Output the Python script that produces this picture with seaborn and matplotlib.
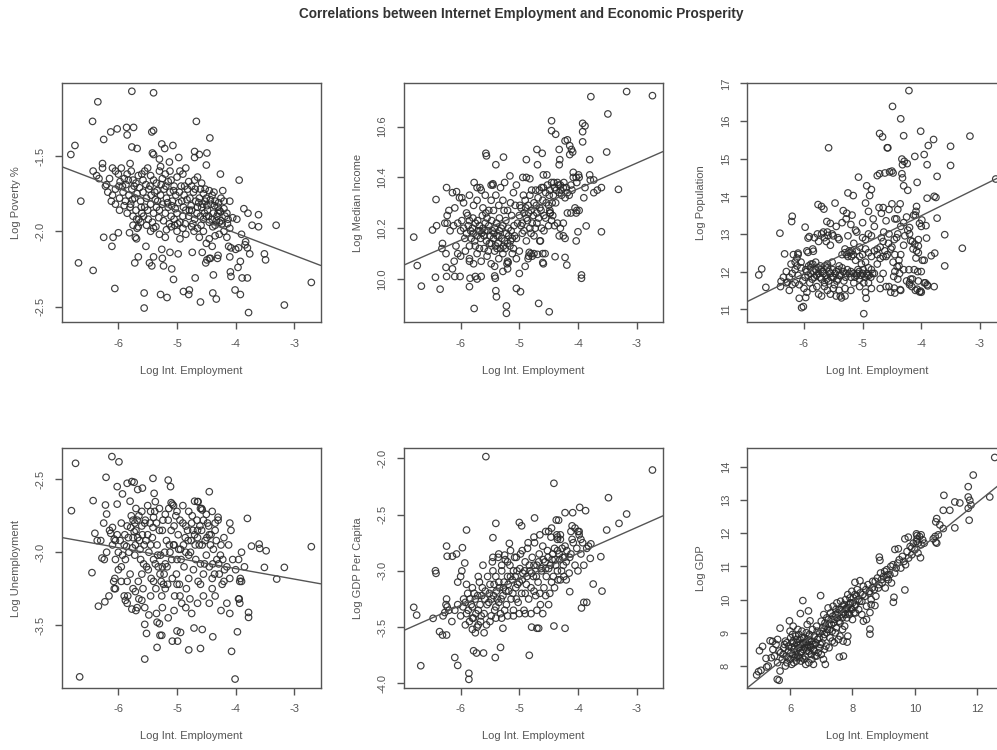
import matplotlib
matplotlib.use("Agg")
import matplotlib.pyplot as plt
import seaborn as sns
import pandas as pd

# ---------------- data (x = Log Int. Employment) ----------------
poverty = [
(-5.77,-1.07),(-5.40,-1.08),(-6.35,-1.14),(-4.67,-1.27),(-6.44,-1.27),(-6.13,-1.34),(-6.02,-1.32),(-5.86,-1.31),
(-5.74,-1.31),(-5.85,-1.36),(-5.40,-1.33),(-5.43,-1.34),(-4.44,-1.38),(-6.25,-1.39),(-6.74,-1.43),(-6.81,-1.49),
(-5.77,-1.44),(-5.68,-1.45),(-5.26,-1.42),(-5.21,-1.45),(-5.07,-1.43),(-5.40,-1.49),(-5.42,-1.48),(-5.30,-1.52),
(-5.13,-1.54),(-4.97,-1.51),(-4.70,-1.47),(-4.70,-1.51),(-4.62,-1.49),(-4.49,-1.48),(-4.50,-1.56),(-4.26,-1.62),
(-3.94,-1.66),(-6.27,-1.55),(-6.43,-1.60),(-6.37,-1.63),(-6.27,-1.58),(-6.20,-1.69),(-6.33,-1.65),
(-6.10,-1.58),(-6.05,-1.60),(-6.00,-1.62),(-5.95,-1.58),(-5.90,-1.65),(-5.85,-1.62),(-5.80,-1.55),(-5.78,-1.60),
(-5.75,-1.66),(-5.70,-1.68),(-5.66,-1.63),(-5.60,-1.62),(-5.55,-1.60),(-5.50,-1.58),(-5.45,-1.63),(-5.40,-1.66),
(-5.35,-1.68),(-5.30,-1.60),(-5.25,-1.65),(-5.20,-1.62),(-5.15,-1.67),(-5.10,-1.66),(-5.05,-1.70),(-5.00,-1.64),
(-4.95,-1.60),(-4.90,-1.62),(-4.85,-1.58),(-4.80,-1.67),(-4.75,-1.70),(-4.70,-1.66),(-4.65,-1.64),(-4.60,-1.72),
(-4.55,-1.75),(-4.50,-1.78),(-4.45,-1.73),(-4.40,-1.76),(-4.35,-1.80),(-4.30,-1.84),(-4.25,-1.78),(-4.20,-1.80),
(-4.15,-1.88),(-6.22,-1.70),(-6.10,-1.76),(-6.05,-1.72),(-5.98,-1.78),(-5.92,-1.74),(-5.88,-1.80),(-5.82,-1.76),
(-5.77,-1.72),(-5.72,-1.78),(-5.68,-1.75),(-5.62,-1.80),(-5.58,-1.74),(-5.52,-1.78),(-5.48,-1.72),(-5.44,-1.76),
(-5.38,-1.74),(-5.33,-1.80),(-5.28,-1.76),(-5.22,-1.72),(-5.18,-1.78),(-5.12,-1.74),(-5.08,-1.80),(-5.02,-1.76),
(-4.96,-1.74),(-4.92,-1.80),(-4.88,-1.76),(-4.82,-1.72),(-4.78,-1.78),(-4.72,-1.74),(-4.68,-1.80),(-4.62,-1.78),
(-4.58,-1.84),(-4.52,-1.80),(-4.48,-1.86),(-4.42,-1.82),(-4.38,-1.88),(-4.32,-1.90),(-4.28,-1.94),
(-6.05,-1.82),(-5.98,-1.86),(-5.90,-1.83),(-5.85,-1.88),(-5.80,-1.84),(-5.75,-1.90),(-5.70,-1.86),(-5.65,-1.92),
(-5.60,-1.88),(-5.55,-1.84),(-5.50,-1.86),(-5.45,-1.82),(-5.40,-1.88),(-5.35,-1.84),(-5.30,-1.86),(-5.25,-1.82),
(-5.20,-1.88),(-5.15,-1.84),(-5.10,-1.90),(-5.05,-1.92),(-5.00,-1.88),(-4.95,-1.94),(-4.90,-1.90),(-4.85,-1.86),
(-4.80,-1.90),(-4.75,-1.86),(-4.70,-1.92),(-4.65,-1.84),(-4.60,-1.90),(-4.55,-1.92),(-4.50,-1.90),(-4.45,-1.94),
(-4.40,-1.92),(-4.35,-1.96),(-4.30,-1.88),(-4.25,-1.93),
(-5.75,-1.96),(-5.68,-1.98),(-5.62,-1.94),(-5.45,-2.00),(-5.40,-1.98),(-5.30,-2.02),(-5.20,-2.04),(-5.10,-1.97),
(-5.00,-2.00),(-4.95,-2.05),(-4.85,-2.02),(-4.75,-1.97),(-4.65,-1.98),(-4.55,-2.00),(-4.45,-2.05),(-4.35,-2.03),
(-4.20,-2.00),(-4.10,-1.98),(-3.98,-1.92),(-3.90,-2.02),(-3.83,-2.07),
(-6.64,-1.80),(-6.25,-2.04),(-6.09,-2.04),(-6.00,-2.01),(-6.11,-2.10),(-5.81,-2.01),(-5.71,-2.04),(-5.69,-2.05),
(-6.68,-2.21),(-6.43,-2.26),(-6.06,-2.38),(-5.72,-2.21),(-5.66,-2.17),(-5.53,-2.10),(-5.47,-2.21),(-5.43,-2.23),
(-5.40,-2.17),(-5.26,-2.12),(-5.25,-2.18),(-5.23,-2.23),(-5.12,-2.14),(-5.56,-2.41),(-5.56,-2.51),(-5.28,-2.42),
(-5.17,-2.44),(-5.09,-2.25),(-5.06,-2.32),(-4.98,-2.15),(-4.89,-2.40),(-4.79,-2.39),(-4.80,-2.42),(-4.74,-2.14),
(-4.69,-2.31),(-4.60,-2.47),(-4.57,-2.14),(-4.51,-2.21),(-4.49,-2.19),(-4.45,-2.18),(-4.43,-2.18),(-4.38,-2.29),
(-4.39,-2.41),(-4.33,-2.45),(-4.31,-2.18),(-4.30,-2.16),(-4.12,-2.10),(-4.10,-2.17),(-4.09,-2.27),(-4.08,-2.30),
(-4.01,-2.39),(-3.92,-2.42),(-3.96,-2.24),(-3.92,-2.20),(-3.89,-2.31),(-3.80,-2.31),(-3.78,-2.54),(-3.84,-2.09),
(-3.76,-2.15),(-3.80,-2.11),(-3.86,-1.85),(-3.79,-1.88),(-3.72,-1.96),(-3.61,-1.89),(-3.61,-1.97),(-3.51,-2.15),
(-3.49,-2.19),(-3.31,-1.96),(-3.17,-2.49),(-2.71,-2.34),(-4.05,-1.91),(-4.10,-1.80),(-4.22,-1.73),(-4.00,-2.12),
(-3.95,-2.11),(-4.08,-2.11),
(-5.97,-1.67),(-5.93,-1.70),(-5.87,-1.69),(-5.83,-1.66),(-5.79,-1.82),(-5.76,-1.79),(-5.73,-1.70),(-5.69,-1.92),
(-5.64,-1.71),(-5.61,-1.84),(-5.57,-1.90),(-5.53,-1.69),(-5.49,-1.92),(-5.46,-1.70),(-5.42,-1.94),(-5.37,-1.79),
(-5.34,-1.73),(-5.31,-1.91),(-5.27,-1.69),(-5.23,-1.93),(-5.19,-1.70),(-5.16,-1.81),(-5.13,-1.95),(-5.09,-1.83),
(-5.06,-1.73),(-5.03,-1.85),(-4.99,-1.95),(-4.97,-1.81),(-4.93,-1.70),(-4.89,-1.84),(-4.86,-1.95),(-4.83,-1.79),
(-4.79,-1.86),(-4.76,-1.83),(-4.73,-1.95),(-4.69,-1.72),(-4.66,-1.88),(-4.63,-1.81),(-4.59,-1.96),(-4.56,-1.82),
(-4.53,-1.88),(-4.49,-1.83),(-4.46,-1.90),(-4.43,-1.79),(-4.39,-1.97),(-4.36,-1.83),(-4.33,-1.93),(-4.29,-1.81),
(-4.26,-1.87),(-4.23,-1.95),(-4.18,-1.90),(-4.14,-1.95),(-6.15,-1.65),(-6.18,-1.74),(-6.12,-1.80),(-5.99,-1.70),
(-5.58,-1.66),(-5.28,-1.57),(-5.12,-1.60),(-4.87,-1.70),(-4.58,-1.68),(-4.52,-1.72),(-4.37,-1.74),(-4.28,-1.86),
(-4.20,-1.85),(-4.13,-1.92),(-5.66,-1.97),(-5.52,-1.96),(-5.36,-1.97),(-5.18,-1.99),(-5.04,-1.96),(-4.90,-1.98),
(-4.71,-2.00),(-4.62,-2.04),(-4.50,-2.08),(-4.40,-2.10),(-4.28,-2.02),(-4.15,-2.04),
]

median_income = [
(-6.80,10.165),(-6.74,10.053),(-6.67,9.972),(-6.42,10.313),(-6.48,10.193),(-6.41,10.21),(-6.24,10.36),(-6.23,10.25),
(-6.23,10.22),(-6.27,10.22),(-6.31,10.14),(-6.32,10.12),(-6.43,10.007),(-6.35,9.96),(-6.24,10.01),(-6.25,10.046),
(-6.25,10.10),(-6.14,10.04),(-6.10,10.01),(-6.11,10.07),(-6.05,10.10),(-6.01,10.01),(-6.14,10.34),(-6.07,10.344),
(-5.98,10.32),(-5.77,10.38),(-5.72,10.36),(-5.67,10.36),(-5.85,10.07),(-5.84,10.003),(-5.85,9.97),(-5.77,9.884),
(-5.75,10.01),(-5.72,10.0),(-5.65,10.01),(-5.57,10.495),(-5.56,10.485),(-5.40,10.45),(-5.27,10.48),(-5.48,10.37),
(-5.45,10.375),(-5.42,10.05),(-5.42,10.012),(-5.41,10.003),(-5.40,9.954),(-5.39,9.93),(-5.22,9.894),(-5.22,9.865),
(-5.28,10.03),(-5.21,10.06),(-5.20,10.04),(-5.19,10.065),(-5.16,10.406),(-5.05,9.963),(-4.98,9.95),(-5.00,10.022),
(-4.94,10.40),(-4.88,10.40),(-4.82,10.395),(-4.88,10.47),(-4.83,10.105),(-4.84,10.09),(-4.80,10.10),(-4.78,10.09),
(-4.70,10.51),(-4.69,10.45),(-4.61,10.495),(-4.67,9.904),(-4.64,10.15),(-4.60,10.065),(-4.59,10.06),(-4.56,10.10),
(-4.69,10.097),(-4.59,10.41),(-4.53,10.41),(-4.49,9.871),(-4.48,10.26),(-4.47,10.26),(-4.45,10.584),(-4.45,10.623),
(-4.38,10.57),(-4.32,10.51),(-4.31,10.47),(-4.32,10.45),(-4.39,10.088),(-4.22,10.544),(-4.18,10.548),(-4.22,10.085),
(-4.19,10.055),(-4.25,10.17),(-4.22,10.16),(-4.14,10.525),(-4.11,10.51),(-4.09,10.50),(-4.14,10.49),(-4.08,10.42),
(-4.03,10.40),(-3.99,10.41),(-4.02,10.27),(-4.03,10.26),(-4.00,10.186),(-4.03,10.15),(-3.98,10.27),(-3.94,10.016),
(-3.94,10.003),(-3.92,10.54),(-3.92,10.613),(-3.88,10.603),(-3.92,10.58),(-3.90,10.32),(-3.88,10.36),(-3.86,10.209),
(-3.80,10.47),(-3.80,10.41),(-3.79,10.39),(-3.73,10.39),(-3.78,10.718),(-3.73,10.34),(-3.67,10.35),(-3.60,10.36),
(-3.60,10.186),(-3.51,10.50),(-3.49,10.65),(-3.31,10.353),(-3.17,10.738),(-2.73,10.722),
(-6.05,10.22),(-6.00,10.19),(-5.95,10.20),(-5.90,10.18),(-5.88,10.25),(-5.85,10.23),(-5.82,10.16),(-5.80,10.20),
(-5.78,10.18),(-5.75,10.22),(-5.72,10.17),(-5.70,10.19),(-5.68,10.21),(-5.66,10.16),(-5.64,10.18),(-5.62,10.20),
(-5.60,10.17),(-5.58,10.22),(-5.56,10.15),(-5.54,10.19),(-5.52,10.21),(-5.50,10.17),(-5.48,10.14),(-5.46,10.19),
(-5.44,10.16),(-5.42,10.20),(-5.40,10.13),(-5.38,10.17),(-5.36,10.14),(-5.34,10.19),(-5.32,10.12),(-5.30,10.16),
(-5.28,10.21),(-5.25,10.15),(-5.22,10.18),(-5.20,10.14),(-5.18,10.17),(-5.15,10.15),(-5.12,10.16),(-5.10,10.12),
(-5.08,10.17),(-5.05,10.16),
(-6.10,10.28),(-6.02,10.32),(-5.95,10.30),(-5.90,10.26),(-5.85,10.33),(-5.78,10.29),(-5.72,10.31),(-5.65,10.35),
(-5.62,10.28),(-5.58,10.33),(-5.52,10.27),(-5.48,10.31),(-5.45,10.37),(-5.40,10.33),(-5.35,10.29),(-5.32,10.36),
(-5.28,10.31),(-5.25,10.38),(-5.20,10.27),(-5.15,10.30),(-5.10,10.34),(-5.05,10.37),
(-6.08,10.13),(-6.00,10.09),(-5.92,10.11),(-5.85,10.08),(-5.78,10.06),(-5.72,10.10),(-5.65,10.07),(-5.60,10.12),
(-5.55,10.09),(-5.48,10.06),(-5.42,10.11),(-5.35,10.08),(-5.28,10.10),(-5.20,10.07),(-5.12,10.10),(-5.05,10.08),
(-5.00,10.11),
(-5.00,10.25),(-4.97,10.28),(-4.95,10.22),(-4.92,10.26),(-4.90,10.31),(-4.88,10.24),(-4.85,10.29),(-4.82,10.33),
(-4.80,10.27),(-4.78,10.22),(-4.75,10.30),(-4.72,10.35),(-4.70,10.26),(-4.68,10.32),(-4.65,10.28),(-4.62,10.36),
(-4.60,10.31),(-4.58,10.25),(-4.55,10.34),(-4.52,10.37),(-4.50,10.29),(-4.48,10.35),(-4.45,10.38),(-4.42,10.33),
(-4.40,10.36),(-4.38,10.30),(-4.35,10.38),(-4.32,10.34),(-4.30,10.37),(-4.28,10.33),(-4.25,10.36),(-4.22,10.32),
(-4.18,10.34),(-4.12,10.37),(-4.08,10.40),(-4.02,10.38),(-3.98,10.40),
(-4.95,10.18),(-4.88,10.15),(-4.82,10.20),(-4.75,10.17),(-4.70,10.22),(-4.65,10.15),(-4.58,10.19),(-4.50,10.21),
(-4.45,10.23),(-4.40,10.21),(-4.35,10.22),(-4.30,10.20),(-4.25,10.22),(-4.32,10.17),(-4.18,10.26),(-4.12,10.26),
(-4.05,10.28),(-4.60,10.10),(-4.75,10.10),(-4.90,10.05),(-4.85,10.08),
(-5.98,10.23),(-5.93,10.16),(-5.87,10.21),(-5.83,10.19),(-5.79,10.24),(-5.76,10.15),(-5.71,10.23),(-5.67,10.19),
(-5.63,10.25),(-5.59,10.19),(-5.55,10.24),(-5.51,10.14),(-5.47,10.23),(-5.43,10.18),(-5.39,10.22),(-5.35,10.17),
(-5.31,10.20),(-5.27,10.13),(-5.23,10.23),(-5.19,10.20),(-5.14,10.19),(-5.09,10.21),(-5.03,10.22),(-4.99,10.29),
(-4.93,10.33),(-4.89,10.28),(-4.84,10.26),(-4.79,10.35),(-4.76,10.25),(-4.71,10.29),(-4.66,10.35),(-4.63,10.27),
(-4.59,10.36),(-4.54,10.30),(-4.49,10.33),(-4.44,10.30),(-4.41,10.38),(-4.37,10.35),(-4.33,10.37),(-4.29,10.35),
(-4.24,10.38),(-4.20,10.36),(-4.15,10.33),(-4.10,10.35),(-4.97,10.21),(-4.92,10.19),(-4.86,10.23),(-4.80,10.18),
(-4.73,10.20),(-4.67,10.24),(-4.62,10.20),(-4.55,10.24),(-4.48,10.27),(-4.43,10.25),(-5.57,10.26),(-5.44,10.27),
(-5.34,10.24),(-5.26,10.27),(-5.13,10.25),(-5.07,10.29),(-5.68,10.12),(-5.53,10.11),(-5.38,10.12),(-5.24,10.12),
(-5.16,10.13),(-5.85,10.13),(-5.75,10.13),(-6.12,10.21),(-6.18,10.19),(-6.20,10.27),
]

population = [
(-6.77,11.91),(-6.72,12.07),(-6.65,11.58),(-6.41,13.02),(-6.33,12.47),(-6.39,11.74),(-6.28,11.72),(-6.25,11.85),
(-6.20,13.47),(-6.21,13.33),(-6.10,12.49),(-6.12,12.36),(-5.98,13.18),(-5.91,12.93),(-5.93,12.89),(-5.93,12.51),
(-5.84,12.54),(-6.08,11.29),(-6.04,11.04),(-6.01,11.07),(-5.97,11.31),(-5.76,13.78),(-5.70,13.73),(-5.66,13.66),
(-5.58,15.29),(-5.47,13.82),(-5.61,13.33),(-5.55,13.28),(-5.77,13.00),(-5.67,13.05),(-5.59,12.96),(-5.25,14.09),
(-5.16,14.02),(-5.33,13.62),(-5.27,13.55),(-5.18,13.50),(-5.07,14.51),(-4.95,13.82),(-4.88,14.02),(-4.94,11.29),
(-4.98,10.88),(-4.93,14.28),(-4.85,14.18),(-4.75,14.55),(-4.71,14.60),(-4.62,14.62),(-4.54,14.65),(-4.50,14.67),
(-4.48,14.62),(-4.71,15.67),(-4.66,15.58),(-4.58,15.29),(-4.57,15.29),(-4.49,16.39),(-4.35,16.06),(-4.21,16.81),
(-4.30,15.61),(-4.33,14.99),(-4.32,14.84),(-4.29,14.93),(-4.24,14.87),(-4.33,14.60),(-4.32,14.49),(-4.30,14.28),
(-4.23,14.16),(-4.11,15.06),(-4.07,14.37),(-4.01,15.73),(-3.95,15.11),(-3.90,14.84),(-3.88,15.35),(-3.79,15.51),
(-3.73,14.53),(-3.78,14.00),(-3.75,13.97),(-3.90,13.95),(-4.08,13.73),(-3.92,13.22),(-3.91,12.89),(-3.73,13.42),
(-3.77,12.49),(-3.95,12.30),(-3.83,12.42),(-3.78,11.60),(-3.60,12.98),(-3.60,12.15),(-3.50,14.82),(-3.50,15.33),
(-3.30,12.62),(-3.17,15.60),(-2.73,14.46),(-4.45,11.43),(-4.36,11.52),(-4.20,11.70),(-4.16,11.60),(-4.07,11.53),
(-4.03,11.46),(-4.01,11.48),(-3.93,11.70),(-3.89,11.62),(-4.06,12.00),(-4.21,12.05),(-4.18,11.80),(-4.41,12.13),
(-4.37,11.95),(-4.46,11.56),(-4.47,11.87),(-4.18,12.82),(-4.11,12.73),(-4.14,12.60),(-4.08,12.55),(-4.09,12.36),
(-4.05,12.68),(-4.20,13.17),(-4.23,13.10),(-4.13,13.50),(-4.09,13.60),(-4.03,13.28),(-3.99,13.37),
(-6.20,11.95),(-6.15,12.05),(-6.10,11.90),(-6.05,12.10),(-6.02,11.75),(-5.98,11.85),(-5.95,12.00),(-5.92,12.15),
(-5.90,11.70),(-5.88,11.95),(-5.85,12.20),(-5.82,11.85),(-5.80,12.05),(-5.78,11.60),(-5.75,11.95),(-5.72,12.15),
(-5.70,11.80),(-5.68,12.00),(-5.65,11.70),(-5.62,11.90),(-5.60,12.10),(-5.58,11.75),(-5.55,11.95),(-5.52,12.25),
(-5.50,11.85),(-5.48,11.65),(-5.45,12.00),(-5.42,11.80),(-5.40,11.90),(-5.38,11.35),(-5.36,11.30),(-5.35,12.10),
(-5.32,11.75),(-5.30,11.55),(-5.28,11.95),(-5.25,12.40),(-5.22,12.50),(-5.20,11.85),(-5.18,12.55),(-5.15,11.95),
(-5.12,12.30),(-5.10,11.90),(-5.08,12.05),(-5.05,11.80),(-5.02,12.20),(-5.00,11.95),(-4.98,11.70),(-4.95,12.25),
(-4.92,11.90),(-4.90,12.10),
(-6.00,11.55),(-5.95,11.45),(-5.85,11.55),(-5.75,11.40),(-5.70,11.35),(-5.65,11.60),(-5.60,11.50),(-5.55,11.40),
(-5.50,11.55),(-5.45,11.35),(-5.40,11.50),(-5.30,11.35),(-5.20,11.50),(-5.15,11.70),(-5.05,11.60),(-4.95,11.45),
(-4.90,11.70),(-4.85,11.55),(-6.30,11.70),(-6.40,11.60),(-6.25,11.50),(-6.20,11.65),(-6.15,12.25),(-6.10,12.45),
(-6.30,12.00),(-6.35,11.85),
(-5.95,12.55),(-5.85,12.60),(-5.75,12.80),(-5.70,13.00),(-5.65,12.90),(-5.60,13.05),(-5.55,12.70),(-5.50,12.95),
(-5.45,13.20),(-5.40,12.85),(-5.35,13.30),(-5.30,12.60),(-5.28,13.40),(-5.25,12.95),(-5.20,13.25),(-5.15,12.75),
(-5.10,13.05),(-5.05,12.65),(-5.00,13.30),(-4.95,12.85),(-4.90,13.60),(-4.85,12.95),(-4.80,13.20),(-4.75,12.60),
(-4.72,13.70),(-4.70,12.35),(-4.68,13.55),(-4.65,12.80),(-4.60,13.35),(-4.58,12.45),(-4.55,13.00),(-4.52,12.60),
(-4.50,13.80),(-4.48,12.25),(-4.45,13.40),(-4.42,12.90),(-4.40,13.65),(-4.38,12.15),(-4.35,13.20),(-4.30,12.70),
(-4.25,13.45),(-4.20,13.00),(-4.15,12.80),(-4.10,13.50),(-4.05,12.85),(-4.00,13.20),
(-4.85,12.05),(-4.80,11.95),(-4.75,12.20),(-4.70,11.80),(-4.65,11.95),(-4.60,12.40),(-4.55,11.60),(-4.50,12.65),
(-4.45,12.00),(-4.40,11.80),(-4.35,11.50),(-4.30,12.05),(-4.25,11.75),(-4.20,11.65),(-4.15,11.80),(-4.10,11.50),
(-4.05,11.75),(-4.00,11.45),(-3.95,11.70),(-3.90,11.65),(-4.70,11.55),(-4.60,11.60),(-4.52,11.45),(-4.45,12.45),
(-4.38,12.30),(-4.12,12.05),(-4.05,12.50),(-4.00,12.00),(-3.98,12.30),
(-5.97,12.05),(-5.93,11.90),(-5.89,12.10),(-5.86,11.80),(-5.83,12.00),(-5.79,11.90),(-5.76,12.10),(-5.73,11.85),
(-5.71,12.05),(-5.67,11.95),(-5.64,12.15),(-5.61,11.80),(-5.57,12.00),(-5.54,11.85),(-5.51,12.05),(-5.47,11.95),
(-5.44,11.75),(-5.41,12.05),(-5.37,11.90),(-5.33,12.00),(-5.29,11.85),(-5.26,12.05),(-5.23,11.95),(-5.19,12.40),
(-5.16,12.45),(-5.13,11.85),(-5.09,11.95),(-5.06,12.00),(-5.03,11.90),(-4.99,12.05),(-4.96,11.85),(-4.93,11.95),
(-4.89,11.90),(-4.86,11.85),(-4.83,11.95),(-5.30,12.50),(-5.27,12.45),(-5.23,12.55),(-5.35,12.45),(-5.10,12.55),
(-5.05,12.40),(-5.00,12.45),(-4.95,12.60),(-4.90,12.50),(-4.85,12.40),(-4.80,12.55),(-4.75,12.45),(-4.70,12.65),
(-4.65,12.40),(-4.62,12.55),(-4.68,12.90),(-4.64,13.05),(-4.56,12.75),(-4.46,12.85),(-4.40,13.00),(-4.35,12.45),
(-4.28,12.95),(-4.55,13.65),(-4.65,13.70),(-4.42,13.40),(-4.36,13.80),(-4.30,13.30),(-4.90,13.00),(-4.82,13.40),
(-5.00,12.90),(-5.12,13.10),(-5.42,12.90),(-5.52,13.00),(-5.62,12.80),(-5.82,12.90),(-5.88,12.20),(-6.05,12.25),
(-6.12,12.15),(-6.18,12.45),(-6.22,12.20),(-6.08,11.65),(-6.15,11.70),(-5.20,12.00),(-5.40,12.15),(-5.60,12.20),
(-5.80,12.25),
]

unemployment = [
(-6.80,-2.715),(-6.73,-2.39),(-6.66,-3.855),(-6.45,-3.14),(-6.43,-2.646),(-6.40,-2.87),(-6.36,-2.92),(-6.30,-2.92),
(-6.34,-3.37),(-6.28,-3.04),(-6.24,-3.05),(-6.23,-3.34),(-6.21,-2.486),(-6.22,-2.676),(-6.20,-2.738),(-6.11,-2.344),
(-5.99,-2.38),(-6.02,-2.55),(-5.93,-2.60),(-6.02,-2.67),(-6.10,-2.83),(-6.13,-2.87),(-6.07,-2.91),(-6.05,-2.92),
(-6.16,-3.30),(-6.07,-3.25),(-6.06,-3.18),(-5.88,-3.33),(-5.84,-3.30),(-5.85,-2.527),(-5.77,-2.515),(-5.73,-2.52),
(-5.67,-2.57),(-5.59,-2.56),(-5.41,-2.493),(-5.39,-2.596),(-5.37,-2.653),(-5.77,-3.39),(-5.71,-3.27),(-5.68,-3.38),
(-5.60,-3.33),(-5.55,-3.495),(-5.52,-3.557),(-5.55,-3.733),(-5.48,-3.43),(-5.34,-3.653),(-5.34,-3.48),(-5.30,-3.49),
(-5.29,-3.57),(-5.26,-3.57),(-5.15,-2.505),(-5.11,-2.55),(-5.08,-2.67),(-5.06,-2.68),(-5.08,-3.61),(-4.99,-3.61),
(-5.00,-3.54),(-4.94,-3.55),(-4.80,-3.67),(-4.71,-3.52),(-4.57,-3.53),(-4.60,-3.66),(-4.65,-2.653),(-4.64,-2.653),
(-4.58,-2.70),(-4.57,-2.71),(-4.45,-2.585),(-4.39,-3.58),(-4.10,-2.80),(-3.97,-3.546),(-4.07,-3.68),(-4.01,-3.87),
(-3.78,-3.413),(-3.78,-3.447),(-3.94,-3.32),(-3.93,-3.35),(-3.93,-3.20),(-3.90,-3.20),(-3.80,-2.768),(-3.73,-2.958),
(-3.60,-2.944),(-3.59,-2.974),(-3.48,-2.99),(-3.51,-3.104),(-3.30,-3.184),(-3.17,-3.104),(-2.71,-2.962),
(-5.95,-2.80),(-5.90,-2.95),(-5.88,-3.05),(-5.85,-2.82),(-5.82,-3.00),(-5.80,-3.15),(-5.78,-2.75),(-5.75,-2.90),
(-5.72,-3.02),(-5.70,-2.85),(-5.68,-2.78),(-5.66,-3.20),(-5.64,-2.92),(-5.62,-3.05),(-5.60,-2.82),(-5.58,-3.25),
(-5.56,-2.95),(-5.54,-2.78),(-5.52,-3.10),(-5.50,-2.88),(-5.48,-3.00),(-5.46,-2.80),(-5.44,-3.18),(-5.42,-2.90),
(-5.40,-3.05),(-5.38,-2.72),(-5.36,-3.25),(-5.34,-2.95),(-5.32,-3.10),(-5.30,-2.85),(-5.28,-3.02),(-5.26,-3.30),
(-5.24,-2.78),(-5.22,-3.15),(-5.20,-3.08),(-5.18,-2.92),(-5.16,-3.22),(-5.14,-2.70),(-5.12,-3.00),(-5.10,-2.85),
(-5.08,-3.18),(-5.06,-2.95),(-5.04,-3.30),(-5.02,-2.75),(-5.00,-3.05),(-4.98,-2.88),(-4.96,-3.22),(-4.94,-2.98),
(-4.92,-3.35),(-4.90,-2.80),(-4.88,-3.10),(-4.86,-2.90),(-4.84,-3.25),(-4.82,-2.85),(-4.80,-3.02),(-4.78,-3.32),
(-4.76,-2.92),(-4.74,-2.75),(-4.72,-3.12),(-4.70,-2.88),(-4.68,-3.05),(-4.66,-2.78),(-4.64,-3.20),(-4.62,-2.95),
(-4.60,-3.08),(-4.58,-2.85),(-4.55,-3.15),(-4.52,-2.92),(-4.50,-3.02),(-4.48,-2.80),(-4.45,-3.10),(-4.42,-2.88),
(-4.40,-3.25),(-4.38,-2.98),(-4.35,-2.85),(-4.32,-3.05),(-4.30,-2.78),(-4.28,-3.15),(-4.25,-2.95),(-4.22,-3.05),
(-4.20,-2.90),(-4.15,-3.10),(-4.12,-2.95),(-4.10,-3.18),(-4.08,-2.85),(-4.05,-3.05),(-4.00,-3.12),(-3.95,-3.05),
(-3.92,-3.18),(-3.90,-3.00),(-3.85,-3.10),
(-6.10,-2.95),(-6.05,-3.05),(-6.00,-3.12),(-6.02,-2.88),(-6.08,-3.20),(-6.05,-3.25),(-5.95,-3.20),(-5.90,-3.30),
(-5.85,-3.35),(-5.75,-3.25),(-5.70,-3.40),(-5.65,-3.32),(-5.55,-3.38),(-5.45,-3.30),(-5.35,-3.42),(-5.25,-3.38),
(-5.15,-3.45),(-5.05,-3.40),(-4.95,-3.30),(-4.85,-3.38),(-4.75,-3.42),(-4.65,-3.35),(-4.55,-3.30),(-4.45,-3.35),
(-4.35,-3.30),(-4.25,-3.40),(-4.15,-3.35),(-4.10,-3.42),(-3.95,-3.32),(-5.80,-2.65),(-5.70,-2.70),(-5.60,-2.72),
(-5.50,-2.68),(-5.40,-2.76),(-5.30,-2.70),(-5.20,-2.74),(-5.10,-2.66),(-5.00,-2.72),(-4.90,-2.68),(-4.80,-2.72),
(-4.70,-2.65),(-4.60,-2.70),(-4.50,-2.74),(-4.40,-2.72),(-4.30,-2.76),(-6.20,-3.00),(-6.15,-2.85),(-6.25,-2.80),
(-5.97,-2.92),(-5.93,-3.02),(-5.89,-2.88),(-5.86,-2.96),(-5.83,-2.90),(-5.79,-2.83),(-5.76,-2.97),(-5.73,-2.86),
(-5.71,-2.95),(-5.67,-2.90),(-5.63,-2.98),(-5.59,-2.88),(-5.57,-3.08),(-5.53,-2.92),(-5.49,-3.12),(-5.45,-2.95),
(-5.41,-2.83),(-5.37,-3.08),(-5.33,-3.02),(-5.29,-3.15),(-5.27,-3.20),(-5.25,-3.10),(-5.23,-3.22),(-5.21,-3.00),
(-5.17,-3.10),(-5.13,-2.95),(-5.09,-3.05),(-5.05,-2.82),(-5.01,-3.15),(-4.97,-2.98),(-4.93,-3.05),(-4.89,-2.95),
(-4.85,-3.00),(-4.81,-2.92),(-4.77,-3.00),(-4.73,-2.85),(-4.69,-2.95),(-4.65,-2.90),(-4.61,-2.82),(-4.57,-2.95),
(-4.53,-3.08),(-4.49,-2.90),(-4.46,-2.82),(-4.43,-2.95),(-4.39,-3.08),(-4.36,-3.15),(-4.33,-2.92),(-4.29,-3.08),
(-4.26,-3.02),(-4.23,-3.22),(-4.19,-3.12),(-5.75,-2.78),(-5.72,-2.80),(-5.65,-2.75),(-5.55,-2.80),(-5.45,-2.72),
(-5.35,-2.80),(-5.25,-2.85),(-5.15,-2.78),(-5.05,-2.95),(-4.95,-2.78),(-4.85,-2.82),(-4.75,-2.80),(-4.65,-2.85),
(-4.55,-2.78),(-4.45,-2.88),(-4.35,-2.80),(-5.85,-3.20),(-5.60,-3.15),(-5.40,-3.20),(-5.20,-3.25),(-5.00,-3.22),
(-4.80,-3.18),(-4.60,-3.22),(-4.40,-3.18),(-4.20,-3.20),(-5.95,-3.10),(-6.00,-3.00),
]

gdp_per_capita = [
(-6.80,-3.324),(-6.75,-3.393),(-6.68,-3.843),(-6.47,-3.422),(-6.43,-2.999),(-6.42,-3.022),(-6.36,-3.54),(-6.31,-3.57),
(-6.24,-3.57),(-6.24,-2.78),(-6.23,-2.87),(-6.24,-3.25),(-6.23,-3.32),(-6.27,-3.37),(-6.14,-2.87),(-6.07,-2.85),
(-6.10,-3.77),(-6.05,-3.84),(-5.97,-2.794),(-5.90,-2.637),(-5.93,-2.93),(-5.86,-3.91),(-5.86,-3.964),(-5.78,-3.71),
(-5.73,-3.73),(-5.61,-3.73),(-5.57,-1.985),(-5.40,-2.578),(-5.45,-2.705),(-5.41,-3.77),(-5.32,-3.68),(-5.28,-3.51),
(-5.17,-2.756),(-5.00,-2.57),(-4.96,-2.60),(-4.83,-3.75),(-4.79,-3.50),(-4.74,-2.53),(-4.70,-3.51),(-4.67,-3.51),
(-4.41,-2.222),(-4.41,-3.49),(-4.37,-2.548),(-4.33,-2.55),(-4.22,-3.51),(-4.14,-3.185),(-4.22,-2.483),(-4.09,-2.483),
(-3.97,-2.436),(-3.87,-2.465),(-3.90,-3.28),(-3.85,-3.28),(-3.94,-3.33),(-3.79,-2.889),(-3.74,-3.117),(-3.61,-2.874),
(-3.59,-3.18),(-3.51,-2.637),(-3.48,-2.35),(-3.30,-2.578),(-3.17,-2.495),(-2.73,-2.104),(-4.10,-2.60),(-4.12,-2.65),
(-4.00,-2.65),(-3.95,-2.72),(-4.30,-2.68),(-4.35,-2.70),
(-6.10,-3.35),(-6.05,-3.30),(-6.00,-3.40),(-5.95,-3.25),(-5.90,-3.38),(-5.88,-3.20),(-5.85,-3.45),(-5.82,-3.30),
(-5.80,-3.15),(-5.78,-3.42),(-5.75,-3.25),(-5.72,-3.50),(-5.70,-3.35),(-5.68,-3.10),(-5.66,-3.45),(-5.64,-3.22),
(-5.62,-2.95),(-5.60,-3.38),(-5.58,-3.18),(-5.56,-3.48),(-5.54,-3.05),(-5.52,-3.28),(-5.50,-3.12),(-5.48,-3.40),
(-5.46,-2.92),(-5.44,-3.22),(-5.42,-3.35),(-5.40,-3.05),(-5.38,-3.25),(-5.36,-2.88),(-5.34,-3.15),(-5.32,-3.38),
(-5.30,-3.00),(-5.28,-3.22),(-5.26,-3.10),(-5.24,-2.90),(-5.22,-3.30),(-5.20,-3.05),(-5.18,-3.18),(-5.16,-2.95),
(-5.14,-3.25),(-5.12,-3.08),(-5.10,-3.35),(-5.08,-2.88),(-5.06,-3.15),(-5.04,-3.00),(-5.02,-3.28),(-5.00,-3.10),
(-4.98,-2.85),(-4.96,-3.20),(-4.94,-3.02),(-4.92,-3.35),(-4.90,-2.92),(-4.88,-3.12),(-4.86,-2.80),(-4.84,-3.25),
(-4.82,-3.00),(-4.80,-3.15),(-4.78,-2.88),(-4.76,-3.05),(-4.74,-2.75),(-4.72,-3.22),(-4.70,-2.95),(-4.68,-3.10),
(-4.66,-2.85),(-4.64,-3.30),(-4.62,-3.00),(-4.60,-2.78),(-4.58,-3.15),(-4.56,-2.92),(-4.54,-3.05),(-4.52,-2.82),
(-4.50,-2.98),(-4.48,-3.20),(-4.46,-2.70),(-4.44,-2.90),(-4.42,-3.05),(-4.40,-2.80),(-4.38,-2.95),(-4.36,-2.68),
(-4.34,-3.08),(-4.32,-2.85),(-4.30,-2.72),(-4.28,-3.00),(-4.26,-2.88),(-4.24,-3.05),(-4.22,-2.78),(-4.20,-2.92),
(-4.15,-3.02),(-4.12,-2.85),(-4.10,-2.72),(-4.05,-2.95),(-4.02,-2.80),(-4.00,-3.00),(-3.98,-2.68),(-3.95,-2.85),
(-3.92,-2.75),(-3.90,-2.95),(-3.85,-2.80),(-3.82,-2.78),(-3.78,-2.76),
(-6.00,-3.05),(-6.05,-3.10),(-5.98,-3.00),(-6.15,-3.45),(-6.20,-3.35),(-6.25,-3.30),(-6.30,-3.40),(-5.92,-3.48),
(-5.80,-3.52),(-5.75,-3.55),(-5.70,-3.48),(-5.60,-3.55),(-5.50,-3.45),(-5.40,-3.42),(-5.35,-3.28),(-5.30,-3.42),
(-5.20,-3.40),(-5.10,-3.40),(-5.00,-3.38),(-4.90,-3.38),(-4.80,-3.38),(-4.70,-3.35),(-4.60,-3.38),(-4.50,-3.30),
(-4.40,-3.15),(-4.30,-3.08),(-4.20,-3.08),(-5.45,-2.88),(-5.35,-2.85),(-5.25,-2.86),(-5.15,-2.82),(-5.05,-2.88),
(-4.95,-2.82),(-4.85,-2.75),(-4.75,-2.70),(-4.65,-2.68),(-4.55,-2.65),(-4.50,-2.65),(-4.45,-2.62),(-4.35,-2.72),
(-4.05,-2.62),(-4.08,-2.75),(-3.98,-2.65),
(-5.96,-3.32),(-5.92,-3.28),(-5.87,-3.35),(-5.84,-3.25),(-5.80,-3.32),(-5.77,-3.20),(-5.74,-3.38),(-5.71,-3.22),
(-5.67,-3.30),(-5.63,-3.15),(-5.59,-3.25),(-5.55,-3.30),(-5.51,-3.20),(-5.47,-3.25),(-5.43,-3.12),(-5.39,-3.18),
(-5.35,-3.10),(-5.31,-3.25),(-5.27,-3.15),(-5.23,-3.18),(-5.19,-3.12),(-5.15,-3.05),(-5.11,-3.20),(-5.07,-3.05),
(-5.03,-3.12),(-4.99,-2.98),(-4.95,-3.08),(-4.91,-3.00),(-4.87,-3.05),(-4.83,-2.95),(-4.79,-3.02),(-4.75,-2.95),
(-4.71,-3.05),(-4.67,-2.92),(-4.63,-2.98),(-4.59,-2.90),(-4.55,-2.98),(-4.51,-2.88),(-4.47,-2.95),(-4.43,-2.85),
(-4.39,-2.90),(-4.35,-2.82),(-4.31,-2.90),(-4.27,-2.80),(-4.23,-2.88),(-4.19,-2.82),(-4.14,-2.88),(-5.70,-3.05),
(-5.45,-3.00),(-5.30,-2.95),(-5.20,-2.92),(-5.10,-3.00),(-4.90,-3.20),(-4.75,-3.18),(-4.55,-3.22),(-4.45,-3.10),
(-4.35,-3.00),(-4.25,-2.95),(-5.90,-3.12),(-5.80,-3.42),(-5.65,-3.40),(-5.40,-3.32),(-5.25,-3.35),(-5.05,-3.25),
(-4.65,-3.20),
]

# GDP panel: its x is on a different (raw log) scale
gdp = [
(4.93,7.73),(4.99,7.83),(5.07,7.87),(5.02,8.46),(5.12,8.59),(5.25,7.97),(5.23,8.23),(5.36,8.76),(5.44,8.74),
(5.59,7.60),(5.65,7.57),(5.68,7.85),(5.68,9.14),(5.60,8.80),(5.98,9.36),(6.41,9.97),(6.33,9.58),(6.59,9.66),
(6.64,9.36),(6.75,8.05),(6.98,10.12),(7.07,8.20),(7.13,8.05),(7.58,8.27),(7.71,8.30),(7.83,8.72),(7.81,9.75),
(7.94,9.90),(8.24,10.57),(8.08,10.52),(8.56,9.61),(8.56,9.11),(8.56,8.96),(8.35,9.35),(8.72,9.82),(8.86,11.28),
(8.88,11.18),(9.10,10.67),(9.36,11.51),(9.47,11.53),(9.31,9.92),(9.33,10.07),(9.68,10.29),(9.68,11.83),(9.79,11.88),
(10.07,11.93),(10.05,11.98),(10.07,11.83),(10.18,11.26),(10.59,11.83),(10.67,12.34),(10.70,12.44),(10.67,11.73),
(10.91,12.69),(10.93,13.14),(10.91,12.14),(11.12,12.69),(11.28,12.94),(11.44,12.91),(11.28,12.16),(11.71,13.40),
(11.71,13.09),(11.76,12.99),(11.74,12.39),(11.80,12.85),(11.71,12.75),(11.87,13.75),(12.40,13.09),(12.56,14.28),
(5.50,8.30),(5.60,8.10),(5.70,8.40),(5.75,8.20),(5.80,8.55),(5.85,8.00),(5.88,8.30),(5.90,8.70),(5.95,8.45),
(6.00,8.20),(6.02,8.85),(6.05,8.55),(6.08,8.35),(6.10,8.75),(6.12,8.10),(6.15,8.60),(6.18,8.90),(6.20,8.45),
(6.22,8.70),(6.25,8.30),(6.28,8.95),(6.30,8.55),(6.32,8.80),(6.35,8.40),(6.38,9.05),(6.40,8.65),(6.42,8.50),
(6.45,8.85),(6.48,8.30),(6.50,8.70),(6.52,9.00),(6.55,8.55),(6.58,8.80),(6.60,8.45),(6.62,8.95),(6.65,8.60),
(6.68,8.35),(6.70,8.75),(6.72,9.10),(6.75,8.50),(6.78,8.90),(6.80,8.65),(6.85,9.20),(6.88,8.80),(6.90,8.40),
(6.95,9.00),(7.00,9.35),(7.02,8.70),(7.05,9.15),(7.08,9.55),(7.10,8.95),(7.12,9.30),(7.15,8.60),(7.18,9.45),
(7.20,9.10),(7.22,9.75),(7.25,9.25),(7.28,8.85),(7.30,9.60),(7.32,9.40),(7.35,9.05),(7.38,9.80),(7.40,9.30),
(7.42,8.70),(7.45,9.55),(7.48,9.15),(7.50,9.90),(7.52,9.45),(7.55,8.80),(7.58,9.70),(7.60,9.30),(7.62,9.95),
(7.65,9.55),(7.68,9.10),(7.70,9.80),(7.72,9.60),(7.75,9.20),(7.78,10.00),(7.80,9.70),(7.82,9.45),(7.85,10.15),
(7.88,9.85),(7.90,9.55),(7.92,10.05),(7.95,9.75),(7.98,10.25),(8.00,9.90),(8.05,9.60),(8.08,10.15),(8.10,9.85),
(8.15,10.30),(8.18,10.00),(8.20,9.70),(8.25,10.20),(8.30,9.95),(8.35,10.40),(8.40,10.10),(8.45,9.80),(8.50,10.45),
(8.55,10.25),(8.60,10.00),(8.65,10.55),(8.70,10.30),(8.75,10.10),(8.80,10.65),(8.85,10.45),(8.90,10.80),(8.95,10.50),
(9.00,10.70),(9.05,10.35),(9.10,10.90),(9.15,10.60),(9.20,10.75),(9.25,10.50),(9.30,11.05),(9.35,10.80),(9.40,10.95),
(9.50,11.20),(9.55,10.95),(9.60,11.30),(9.70,11.05),(9.75,11.45),(9.80,11.25),(9.85,11.60),(9.90,11.35),(9.95,11.70),
(10.00,11.50),(10.05,11.75),(10.10,11.40),(10.15,11.90),(10.20,11.65),(10.25,11.80),(10.30,11.70),(10.70,11.70),
(10.75,11.95),(10.80,12.25),(10.65,11.90),
(5.30,8.00),(5.40,8.25),(5.45,8.50),(5.55,8.65),(5.65,8.45),(5.85,8.75),(6.00,9.05),(6.10,9.20),(6.25,9.10),
(6.30,8.25),(6.45,8.20),(6.55,9.25),(6.60,8.10),(6.70,8.20),(6.85,8.30),(6.95,8.55),(7.00,8.35),(7.10,8.50),
(7.25,8.55),(7.35,8.75),(7.45,9.00),(7.60,8.90),(7.70,8.75),(7.85,8.90),(8.00,9.40),(8.10,9.60),(8.30,9.55),
(8.45,9.40),(8.60,9.85),(5.90,8.10),(6.05,8.05),(6.15,8.25),(6.35,8.15),(6.50,8.05),
(5.95,8.60),(6.03,8.40),(6.07,8.70),(6.13,8.50),(6.17,8.35),(6.23,8.80),(6.27,8.55),(6.33,8.65),(6.37,8.85),
(6.43,8.70),(6.47,8.55),(6.53,8.45),(6.57,8.65),(6.63,8.75),(6.67,8.55),(6.73,8.65),(6.77,8.45),(6.83,8.70),
(6.87,9.05),(6.93,8.85),(6.97,8.65),(7.03,9.05),(7.07,8.85),(7.13,9.20),(7.17,9.00),(7.23,9.40),(7.27,9.10),
(7.33,9.25),(7.37,9.50),(7.43,9.40),(7.47,9.70),(7.53,9.60),(7.57,9.35),(7.63,9.70),(7.67,9.45),(7.73,9.85),
(7.77,9.55),(7.83,9.75),(7.87,9.60),(7.93,9.90),(7.97,9.70),(8.03,10.05),(8.07,9.80),(8.13,10.10),(8.23,9.95),
(8.33,10.15),(8.43,10.30),(8.53,10.20),(8.63,10.35),(8.73,10.55),(8.83,10.35),(8.93,10.60),(9.03,10.85),(9.13,10.75),
(9.23,11.00),(9.45,11.10),(9.65,11.15),(9.90,11.55),(10.10,11.70),(10.20,11.95),(5.78,8.35),(5.82,8.65),(5.92,8.25),
(6.08,8.95),(6.20,8.15),(6.40,8.25),(6.60,8.90),(6.80,8.30),
]

# fitted regression lines: (intercept, slope)
fit_poverty = (-2.606, -0.1486)
fit_income = (10.760, 0.1012)
fit_population = (16.56, 0.769)
fit_unemployment = (-3.400, -0.0719)
fit_gdp_pc = (-1.923, 0.2305)
fit_gdp = (3.834, 0.7576)

y_labels = ["Log Poverty %", "Log Median Income", "Log Population",
            "Log Unemployment", "Log GDP Per Capita", "Log GDP"]
x_label = "Log Int. Employment"
title = "Correlations between Internet Employment and Economic Prosperity"

y_ticks = [[-2.5, -2.0, -1.5], [10.0, 10.2, 10.4, 10.6], [11, 12, 13, 14, 15, 16, 17],
           [-3.5, -3.0, -2.5], [-4.0, -3.5, -3.0, -2.5, -2.0], [8, 9, 10, 11, 12, 13, 14]]
y_tick_labels = [["-2.5", "-2.0", "-1.5"], ["10.0", "10.2", "10.4", "10.6"],
                 ["11", "12", "13", "14", "15", "16", "17"], ["-3.5", "-3.0", "-2.5"],
                 ["-4.0", "-3.5", "-3.0", "-2.5", "-2.0"], ["8", "9", "10", "11", "12", "13", "14"]]
x_ticks = [[-6, -5, -4, -3]] * 5 + [[6, 8, 10, 12]]

# ---------------- layout ----------------
sns.set_style("white")
plt.rcParams['font.family'] = ['Liberation Sans', 'DejaVu Sans']

W, H = 997, 750
fig = plt.figure(figsize=(W / 100, H / 100), dpi=100)

cols_left = [61.7, 404.0, 747.3]
col_w = 259.0
rows_top = [82.7, 448.3]
row_h = 239.5

xlims = [(-6.966, -2.55)] * 5 + [(4.63, 12.93)]
ylims = [(-2.604, -1.013), (9.83, 10.773), (10.654, 17.02),
         (-3.93, -2.287), (-4.039, -1.911), (7.344, 14.556)]

datasets = [poverty, median_income, population, unemployment, gdp_per_capita, gdp]
fits = [fit_poverty, fit_income, fit_population, fit_unemployment, fit_gdp_pc, fit_gdp]

axis_col = "#555555"
text_col = "#555555"

for i, (pts, fit) in enumerate(zip(datasets, fits)):
    r, c = divmod(i, 3)
    l = cols_left[c]
    t = rows_top[r]
    ax = fig.add_axes([l / W, 1 - (t + row_h) / H, col_w / W, row_h / H])
    df = pd.DataFrame(pts, columns=["x", "y"])
    sns.scatterplot(data=df, x="x", y="y", ax=ax, s=22, facecolors="none",
                    edgecolor="#2a2a2a", linewidth=0.85, alpha=0.9, legend=False)
    ax.axline((0, fit[0]), slope=fit[1], color="#555555", linewidth=1.0, zorder=3)
    ax.set_xlim(*xlims[i])
    ax.set_ylim(*ylims[i])
    ax.set_xticks(x_ticks[i])
    ax.set_xticklabels([str(v) for v in x_ticks[i]])
    ax.set_yticks(y_ticks[i])
    ax.set_yticklabels(y_tick_labels[i], rotation=90, va="center")
    for sp in ax.spines.values():
        sp.set_visible(True)
        sp.set_color(axis_col)
        sp.set_linewidth(1.0)
    ax.tick_params(axis="both", bottom=True, left=True, top=False, right=False,
                   direction="out", length=5, width=1.0, color=axis_col,
                   labelsize=8, labelcolor=text_col, pad=7)
    ax.set_xlabel(x_label, fontsize=8, color=text_col, va="center")
    ax.set_ylabel(y_labels[i], fontsize=8, color=text_col, va="center")
    ax.xaxis.set_label_coords(0.5, -(48.5 / row_h))
    ax.yaxis.set_label_coords(-(46.0 / col_w), 0.5)

fig.text(521.5 / W, 1 - 14 / H, title, ha="center", va="center",
         fontsize=9.8, fontweight="bold", color="#333333")

fig.savefig("out.png", dpi=100)
